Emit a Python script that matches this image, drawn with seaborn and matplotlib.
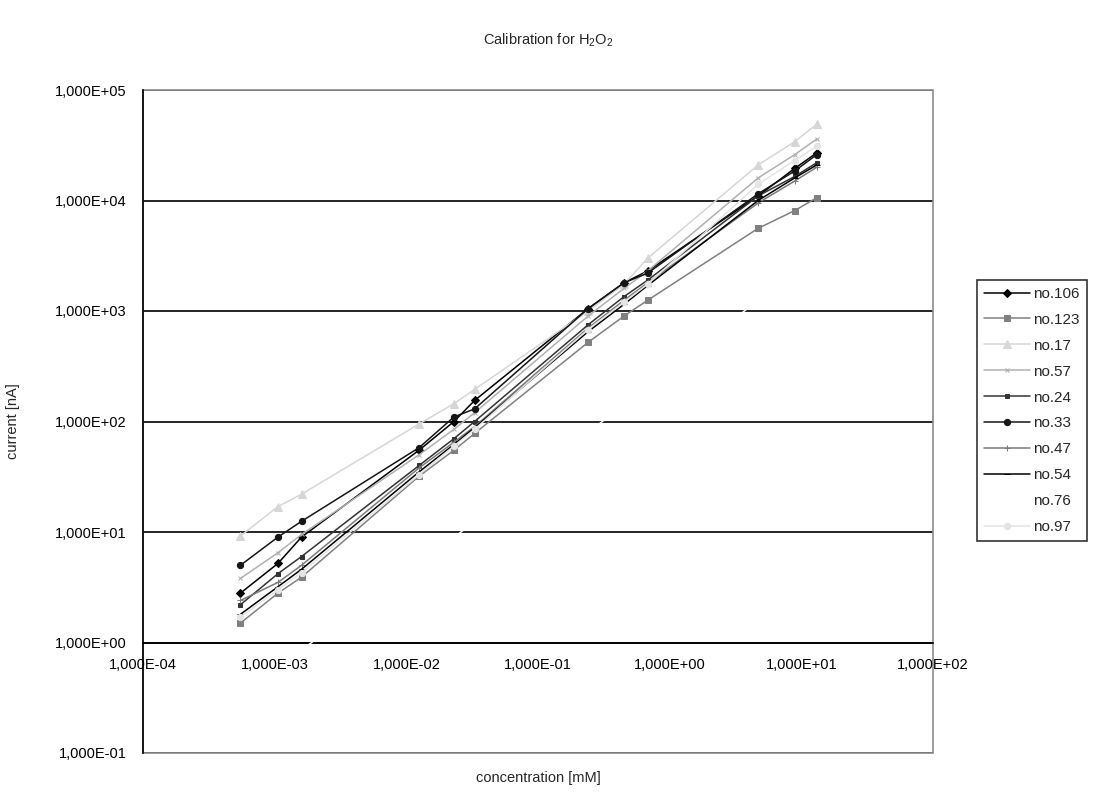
import numpy as np
import matplotlib
matplotlib.use("Agg")
import matplotlib.pyplot as plt
import matplotlib.patches as mpatches
from matplotlib.ticker import FuncFormatter, NullLocator
import pandas as pd
import seaborn as sns

# concentration [mM] (shared by all sensors)
conc = [5.5e-4, 1.06e-3, 1.6e-3, 1.25e-2, 2.3e-2, 3.3e-2, 0.24, 0.45, 0.68, 4.7, 8.9, 13.1]

# current [nA] for each sensor
no106 = [2.8, 5.2, 9.0, 55, 100, 155, 1050, 1800, 2300, 11000, 19500, 27000]
no123 = [1.5, 2.8, 3.9, 32, 55, 78, 520, 900, 1250, 5600, 8100, 10600]
no17 = [9.2, 17, 22, 95, 145, 195, 1000, 1750, 3000, 21000, 34000, 49000]
no57 = [3.8, 6.5, 9.5, 50, 85, 120, 900, 1600, 2300, 16000, 26000, 36000]
no24 = [2.2, 4.2, 6.0, 40, 70, 100, 750, 1350, 1900, 11000, 16500, 22000]
no33 = [5.0, 9.0, 12.5, 58, 110, 130, 1050, 1800, 2200, 11500, 18500, 26000]
no47 = [2.4, 3.5, 5.0, 38, 65, 90, 700, 1250, 1800, 9500, 15000, 20000]
no54 = [1.8, 3.2, 4.6, 35, 62, 88, 650, 1150, 1700, 10000, 16000, 21000]
no76 = [0.32, 0.58, 0.85, 5.6, 8.9, 12.5, 80, 140, 210, 1250, 2250, 3200]
no97 = [1.7, 3.0, 4.3, 33, 60, 85, 680, 1200, 1750, 14000, 23000, 31000]

names = ["no.106", "no.123", "no.17", "no.57", "no.24", "no.33", "no.47", "no.54", "no.76", "no.97"]
values = [no106, no123, no17, no57, no24, no33, no47, no54, no76, no97]

colors = ["#000000", "#808080", "#d6d6d6", "#b0b0b0", "#333333",
          "#151515", "#7a7a7a", "#000000", "#ffffff", "#e4e4e4"]
markers = ["D", "s", "^", "x", "s", "o", "+", "_", None, "o"]
msizes = [4.5, 5, 6, 3.5, 3.5, 4.5, 5, 4, 0, 4.5]

sns.set_style("white")
plt.rcParams["font.family"] = ["Liberation Sans", "DejaVu Sans"]
plt.rcParams["mathtext.fontset"] = "custom"
plt.rcParams["mathtext.rm"] = "Liberation Sans"

fig = plt.figure(figsize=(11.09, 7.96), dpi=100)
ax = fig.add_axes([143 / 1109, 43 / 796, 790 / 1109, 663 / 796])

for name, vals, c, m, ms in zip(names, values, colors, markers, msizes):
    df = pd.DataFrame({"conc": conc, "current": vals})
    sns.lineplot(data=df, x="conc", y="current", ax=ax, color=c, marker=m,
                 markersize=ms, markeredgecolor=c, markerfacecolor=c,
                 linewidth=1.1, label=name, errorbar=None, zorder=3)

ax.set_xscale("log")
ax.set_yscale("log")
ax.set_xlim(1e-4, 1e2)
ax.set_ylim(1e-1, 1e5)
ax.set_xticks([10.0 ** k for k in range(-4, 3)])
ax.set_yticks([10.0 ** k for k in range(-1, 6)])
ax.xaxis.set_minor_locator(NullLocator())
ax.yaxis.set_minor_locator(NullLocator())


def sci(v, pos):
    e = int(np.round(np.log10(v)))
    return ("%.3fE%+03d" % (v / 10.0 ** e, e)).replace(".", ",")


ax.xaxis.set_major_formatter(FuncFormatter(sci))
ax.yaxis.set_major_formatter(FuncFormatter(sci))
ax.tick_params(axis="both", which="major", direction="out", length=6, width=1,
               color="black", labelsize=10.5, labelcolor="black")
ax.tick_params(axis="x", pad=5)
ax.tick_params(axis="y", pad=6)

ax.yaxis.grid(True, color="black", linewidth=1.2)
ax.xaxis.grid(False)
# keep x tick labels above the curves
ax.xaxis.set_zorder(4)

# x axis crosses at current = 1
ax.spines["bottom"].set_position(("data", 1))
ax.spines["bottom"].set_color("black")
ax.spines["bottom"].set_linewidth(1.2)
ax.spines["left"].set_color("black")
ax.spines["left"].set_linewidth(1.2)
ax.spines["top"].set_visible(False)
ax.spines["right"].set_visible(False)
ax.add_patch(mpatches.Rectangle((0, 0), 1, 1, transform=ax.transAxes, fill=False,
                                edgecolor="#8c8c8c", linewidth=1.2, zorder=1.5,
                                clip_on=False))

ax.set_xlabel("concentration [mM]", fontsize=10.5)
ax.set_ylabel("current [nA]", fontsize=10.5)
ax.xaxis.set_label_coords(0.5, -0.027)
ax.yaxis.set_label_coords(-0.156, 0.5)

fig.text(0.494, 1 - 40 / 796, "Calibration for H$_2$O$_2$", ha="center",
         va="center", fontsize=10.5)

handles, labels = ax.get_legend_handles_labels()
ax.get_legend().remove()
leg = fig.legend(handles, labels, loc="upper left",
                 bbox_to_anchor=(977 / 1109, 1 - 280 / 796), frameon=True,
                 fancybox=False, edgecolor="black", fontsize=11,
                 labelspacing=0.78, handlelength=3.0, handletextpad=0.25,
                 borderpad=0.45, borderaxespad=0)
leg.get_frame().set_linewidth(1.2)

fig.savefig("out.png", dpi=100, facecolor="white")
